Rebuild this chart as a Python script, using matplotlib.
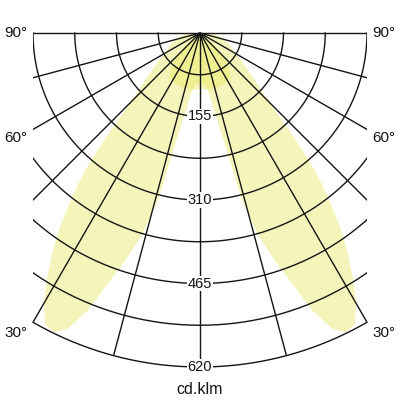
import numpy as np
import matplotlib
matplotlib.use("Agg")
import matplotlib.pyplot as plt
from matplotlib.path import Path
from matplotlib.patches import PathPatch, Polygon

plt.rcParams['font.family'] = ['Liberation Sans', 'DejaVu Sans']

# courbe photometrique (cd/klm), demi-plan, symetrique
angles_c0 = [0, 5, 8, 10, 12, 14, 16, 18, 20, 22, 24, 26, 28, 30, 32, 34, 36, 38, 40, 42, 45, 50, 55, 60, 70, 80, 90]
valeurs_c0 = [93, 97, 110, 140, 190, 315, 390, 440, 490, 555, 600, 618, 612, 580, 535, 490, 440, 385, 330, 260, 185, 130, 98, 76, 56, 37, 22]
angles_c90 = [0, 10, 20, 30, 35, 40, 45, 50, 60, 90]
valeurs_c90 = [105, 106, 106, 104, 100, 85, 60, 32, 12, 0]

anneaux = [77.5, 155, 232.5, 310, 387.5, 465, 542.5]
labels_anneaux = [155, 310, 465, 620]
rayons_angles = [-90, -75, -60, -45, -30, -15, 0, 15, 30, 45, 60, 75, 90]
labels_angles = [90, 60, 30]

R_MAX = 620
X_MAX = 310
GRIS = "#141414"
JAUNE = "#e8e855"
LW = 1.0


def polaire(theta_deg, r):
    t = np.radians(theta_deg)
    return np.asarray(r) * np.sin(t), -np.asarray(r) * np.cos(t)


def courbe(angles, valeurs):
    a = np.array(angles, dtype=float)
    v = np.array(valeurs, dtype=float)
    a_full = np.concatenate([-a[::-1], a[1:]])
    v_full = np.concatenate([v[::-1], v[1:]])
    x, y = polaire(a_full, v_full)
    return np.column_stack([np.append(x, 0), np.append(y, 0)])


fig = plt.figure(figsize=(4, 4), dpi=100)
ax = fig.add_axes([0, 0, 1, 1])
echelle = 334 / R_MAX  # px par cd/klm
ax.set_xlim(-200 / echelle, 200 / echelle)
ax.set_ylim(-367 / echelle, 33 / echelle)
ax.set_aspect("equal")
ax.axis("off")

# zone de decoupe : |x|<=310 et r<=620 (un peu de marge en haut)
y_coin = -np.sqrt(R_MAX**2 - X_MAX**2)
a_coin = np.arcsin(X_MAX / R_MAX)
t_arc = np.linspace(a_coin, -a_coin, 100)
pts = [(-X_MAX, 6), (X_MAX, 6), (X_MAX, y_coin)]
pts += list(zip(R_MAX * np.sin(t_arc), -R_MAX * np.cos(t_arc)))
pts += [(-X_MAX, y_coin), (-X_MAX, 6)]
clip = PathPatch(Path(pts), transform=ax.transData, facecolor="none", edgecolor="none")
ax.add_patch(clip)

# remplissage
for ang, val in [(angles_c0, valeurs_c0), (angles_c90, valeurs_c90)]:
    p = Polygon(courbe(ang, val), closed=True, facecolor=JAUNE, edgecolor="none", alpha=0.4, zorder=1)
    ax.add_patch(p)
    p.set_clip_path(clip)

# anneaux
t = np.linspace(-np.pi / 2, np.pi / 2, 400)
for r in anneaux:
    l, = ax.plot(r * np.sin(t), -r * np.cos(t), color=GRIS, lw=LW, zorder=2)
    l.set_clip_path(clip)
# anneau exterieur (bord)
t_bord = np.linspace(-a_coin, a_coin, 200)
ax.plot(R_MAX * np.sin(t_bord), -R_MAX * np.cos(t_bord), color=GRIS, lw=LW, zorder=2)

# rayons
for a in rayons_angles:
    x, y = polaire(a, [0, 2 * R_MAX])
    l, = ax.plot(x, y, color=GRIS, lw=LW, zorder=2, solid_capstyle="butt")
    l.set_clip_path(clip)

# etiquettes des anneaux
for v in labels_anneaux:
    ax.text(0, -v, str(v), ha="center", va="center", fontsize=10.5, color=GRIS, zorder=3,
            bbox=dict(boxstyle="square,pad=0.05", facecolor="white", edgecolor="none"))

# etiquettes des angles
decal = {90: 0, 60: -9, 30: -11}
for a in labels_angles:
    t_a = np.radians(a)
    y_lab = max(-X_MAX / np.tan(t_a), y_coin) if a != 90 else 0
    for xl in [16, 384]:
        ax.annotate(f"{a}°", xy=((xl - 200) / echelle, y_lab), xytext=(0, decal[a] * 0.72),
                    textcoords="offset points", ha="center", va="center", fontsize=11, color=GRIS)

ax.text(0, -357 / echelle, "cd.klm", ha="center", va="center", fontsize=11.5, color=GRIS)

fig.savefig("out.png", dpi=100)
